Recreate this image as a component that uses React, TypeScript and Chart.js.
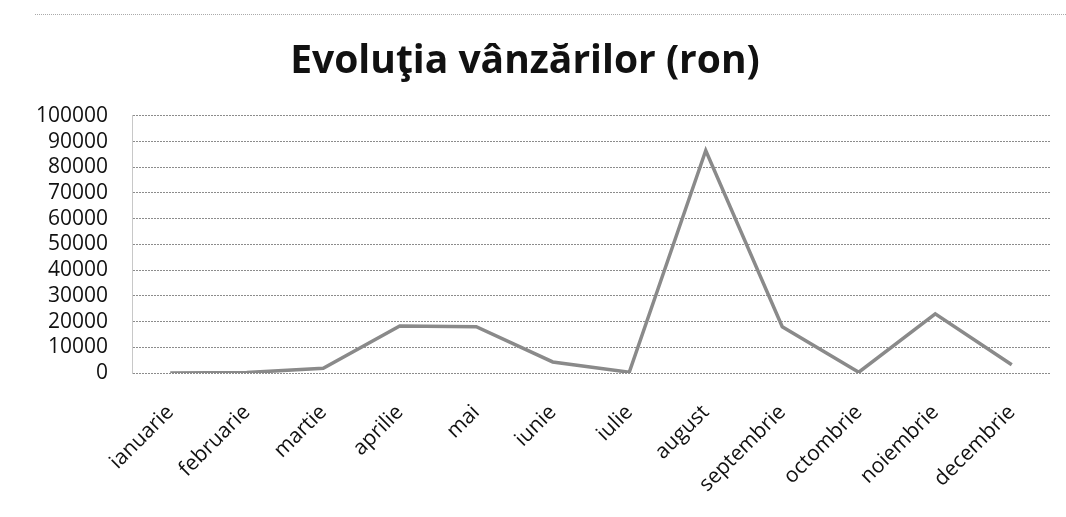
import React, { useEffect, useRef } from "react";
import { Chart, registerables } from "chart.js";

Chart.register(...registerables);

const titleText = "Evoluţia vânzărilor (ron)";
const months = [
  "ianuarie",
  "februarie",
  "martie",
  "aprilie",
  "mai",
  "iunie",
  "iulie",
  "august",
  "septembrie",
  "octombrie",
  "noiembrie",
  "decembrie",
];
const sales = [0, 200, 1800, 18300, 18000, 4300, 300, 86500, 18000, 300, 23000, 3200];
const yMin = 0;
const yMax = 100000;
const yStep = 10000;

export default function App() {
  const canvasRef = useRef<HTMLCanvasElement | null>(null);

  useEffect(() => {
    document.body.style.margin = "0";
    const canvas = canvasRef.current;
    if (!canvas) return;
    const chart = new Chart(canvas, {
      type: "line",
      data: {
        labels: months,
        datasets: [
          {
            label: "Vânzări",
            data: sales,
            borderColor: "#8a8a8a",
            borderWidth: 3.5,
            pointRadius: 0,
            tension: 0,
            fill: false,
          },
        ],
      },
      options: {
        animation: false,
        responsive: false,
        maintainAspectRatio: false,
        layout: { padding: { left: 0, right: 16, top: 0, bottom: 0 } },
        plugins: {
          legend: { display: false },
          tooltip: { enabled: false },
          title: {
            display: true,
            text: titleText,
            color: "#111",
            font: { family: "'Open Sans', sans-serif", size: 39, weight: "bold", lineHeight: 1.2 },
            padding: { top: 38, bottom: 31 },
          },
        },
        scales: {
          x: {
            offset: true,
            grid: { display: false, drawTicks: false },
            border: { display: false },
            ticks: {
              color: "#111",
              font: { family: "'Open Sans', sans-serif", size: 21 },
              minRotation: 45,
              maxRotation: 45,
              padding: 27,
              autoSkip: false,
            },
            afterFit: (scale: any) => {
              scale.height = 144;
            },
          },
          y: {
            min: yMin,
            max: yMax,
            grid: { color: "#8c8c8c", lineWidth: 1, drawTicks: false },
            border: { display: true, color: "#c8c8c8", dash: [2, 1] },
            ticks: {
              stepSize: yStep,
              autoSkip: false,
              color: "#111",
              padding: 24,
              font: { family: "'Open Sans', sans-serif", size: 21 },
              callback: (v: any) => String(v),
            },
            afterFit: (scale: any) => {
              scale.width = 132;
            },
          },
        },
      },
    });
    return () => chart.destroy();
  }, []);

  return (
    <div style={{ position: "relative", width: 1066, height: 517, background: "#fff" }}>
      <div
        style={{
          position: "absolute",
          left: 35,
          right: 0,
          top: 14,
          borderTop: "1px dotted #aaa",
        }}
      />
      <canvas ref={canvasRef} width={1066} height={517} style={{ display: "block" }} />
    </div>
  );
}
